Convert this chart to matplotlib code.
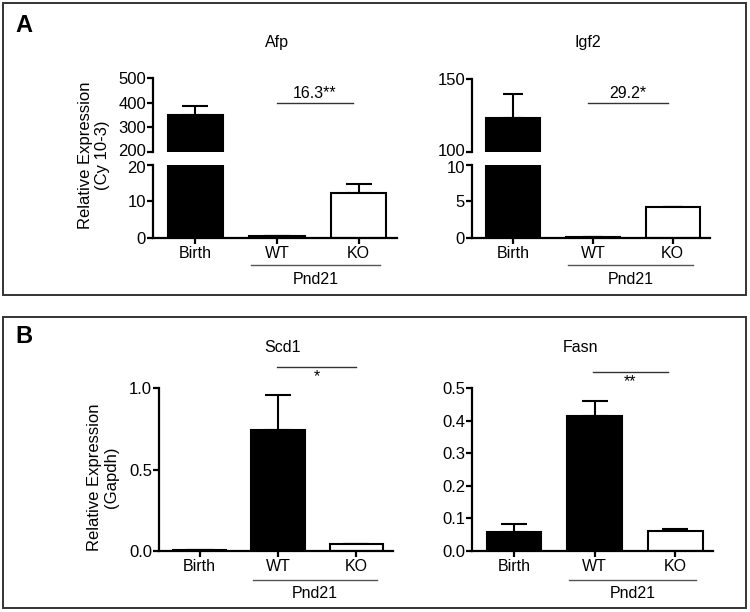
import matplotlib
matplotlib.use("Agg")
import matplotlib.pyplot as plt
from matplotlib.patches import Rectangle
from matplotlib.transforms import blended_transform_factory, ScaledTranslation

plt.rcParams['font.family'] = ['Liberation Sans', 'DejaVu Sans']

# --- data ---
groups = ["Birth", "WT", "KO"]
fills = ["black", "black", "white"]

afp_mean = [350, 0.5, 12.4]
afp_err = [36, 0.1, 2.4]
igf2_mean = [123, 0.1, 4.2]
igf2_err = [17, 0.0, 0.1]
scd1_mean = [0.005, 0.74, 0.04]
scd1_err = [0.002, 0.22, 0.003]
fasn_mean = [0.057, 0.414, 0.061]
fasn_err = [0.025, 0.047, 0.005]

W, H = 750, 612
fig = plt.figure(figsize=(7.5, 6.12), dpi=100)


def px_axes(x0, y0, x1, y1):
    """axes from pixel box (top-left origin)"""
    return fig.add_axes([x0 / W, 1 - y1 / H, (x1 - x0) / W, (y1 - y0) / H])


def fy(py):
    return 1 - py / H


def draw_bars(ax, mean, err, cap=9.5):
    x = range(len(groups))
    ax.errorbar(x, mean, yerr=[[0] * len(err), err], fmt='none', ecolor='black',
                elinewidth=1.5, capsize=cap, capthick=1.5, zorder=1)
    ax.bar(x, mean, width=0.68, color=fills, edgecolor='black', linewidth=1.5, zorder=2)
    ax.set_xlim(-0.52, 2.47)


def style(ax, bottom=True):
    ax.spines['top'].set_visible(False)
    ax.spines['right'].set_visible(False)
    ax.spines['left'].set_linewidth(1.6)
    ax.spines['bottom'].set_linewidth(1.6)
    ax.tick_params(width=1.6, length=4, labelsize=12, direction='out', pad=1)
    ax.patch.set_alpha(0)
    if bottom:
        ax.set_xticks(range(len(groups)))
        ax.set_xticklabels(groups, fontsize=11.5)
        ax.tick_params(axis='x', pad=2)
    else:
        ax.spines['bottom'].set_visible(False)
        ax.set_xticks([])


def nudge(label, dy_px):
    # shift a tick label a few pixels so the two halves of a broken axis don't collide
    label.set_transform(label.get_transform() + ScaledTranslation(0, dy_px / 100, fig.dpi_scale_trans))


def pnd21(ax, y_line, y_text):
    tr = blended_transform_factory(ax.transData, fig.transFigure)
    ax.plot([0.68, 2.26], [fy(y_line)] * 2, color='#555555', lw=1.0,
            transform=tr, clip_on=False)
    ax.text(1.47, fy(y_text), "Pnd21", transform=tr, ha='center', va='center',
            fontsize=11.5)


def sig(ax, x0, x1, y, label, ty):
    ax.plot([x0, x1], [y, y], color='#333333', lw=1.0, clip_on=False)
    if label:
        ax.text((x0 + x1) / 2, ty, label, ha='center', va='center', fontsize=11.5)


# --- Panel A: Afp (broken axis) ---
afp_top = px_axes(153, 78, 397, 152)
afp_bot = px_axes(153, 165, 397, 238)
for a in (afp_top, afp_bot):
    draw_bars(a, afp_mean, afp_err)
afp_top.set_ylim(200, 500)
afp_top.set_yticks([200, 300, 400, 500])
afp_bot.set_ylim(0, 20)
afp_bot.set_yticks([0, 10, 20])
style(afp_top, bottom=False)
style(afp_bot)
nudge(afp_top.get_yticklabels()[0], 2.5)
nudge(afp_bot.get_yticklabels()[-1], -2.5)
pnd21(afp_bot, 265, 280)
sig(afp_top, 1.0, 1.93, 400, "", 0)
fig.text(315 / W, fy(93), "16.3**", ha='center', va='center', fontsize=11.5)

# --- Panel A: Igf2 (broken axis) ---
igf_top = px_axes(472, 79, 710, 152)
igf_bot = px_axes(472, 165, 710, 238)
for a in (igf_top, igf_bot):
    draw_bars(a, igf2_mean, igf2_err, cap=7.5)
igf_top.set_ylim(100, 150)
igf_top.set_yticks([100, 150])
igf_bot.set_ylim(0, 10)
igf_bot.set_yticks([0, 5, 10])
style(igf_top, bottom=False)
style(igf_bot)
nudge(igf_top.get_yticklabels()[0], 2.5)
nudge(igf_bot.get_yticklabels()[-1], -2.5)
pnd21(igf_bot, 265, 280)
sig(igf_top, 0.94, 1.94, 133.6, "", 0)
fig.text(628 / W, fy(93), "29.2*", ha='center', va='center', fontsize=11.5)

# --- Panel B: Scd1 ---
scd = px_axes(159, 388, 393, 551)
draw_bars(scd, scd1_mean, scd1_err)
scd.set_ylim(0, 1.0)
scd.set_yticks([0.0, 0.5, 1.0])
scd.set_yticklabels(["0.0", "0.5", "1.0"])
style(scd)
pnd21(scd, 580, 594)
sig(scd, 0.99, 2.0, 1.129, "*", 1.07)

# --- Panel B: Fasn ---
fas = px_axes(472, 388, 713, 551)
draw_bars(fas, fasn_mean, fasn_err)
fas.set_ylim(0, 0.5)
fas.set_yticks([0.0, 0.1, 0.2, 0.3, 0.4, 0.5])
fas.set_yticklabels(["0.0", "0.1", "0.2", "0.3", "0.4", "0.5"])
style(fas)
pnd21(fas, 580, 594)
sig(fas, 0.98, 1.91, 0.549, "**", 0.518)

# titles
fig.text(277 / W, fy(43), "Afp", ha='center', va='center', fontsize=11.5)
fig.text(588 / W, fy(43), "Igf2", ha='center', va='center', fontsize=11.5)
fig.text(283 / W, fy(347), "Scd1", ha='center', va='center', fontsize=11.5)
fig.text(580 / W, fy(347), "Fasn", ha='center', va='center', fontsize=11.5)

# y labels
fig.text(94 / W, fy(155), "Relative Expression\n(Cy 10-3)", rotation=90,
         ha='center', va='center', fontsize=12, linespacing=1.1)
fig.text(103 / W, fy(477), "Relative Expression\n(Gapdh)", rotation=90,
         ha='center', va='center', fontsize=12, linespacing=1.1)

# panel letters and frames
fig.text(24 / W, fy(26), "A", ha='center', va='center', fontsize=17, fontweight='bold')
fig.text(24 / W, fy(336), "B", ha='center', va='center', fontsize=17, fontweight='bold')
for y0, y1 in [(3, 295), (317, 608)]:
    fig.patches.append(Rectangle((3 / W, fy(y1)), 743 / W, (y1 - y0) / H,
                                 transform=fig.transFigure, fill=False,
                                 edgecolor='#333333', linewidth=1.4))

fig.savefig("out.png", dpi=100)
